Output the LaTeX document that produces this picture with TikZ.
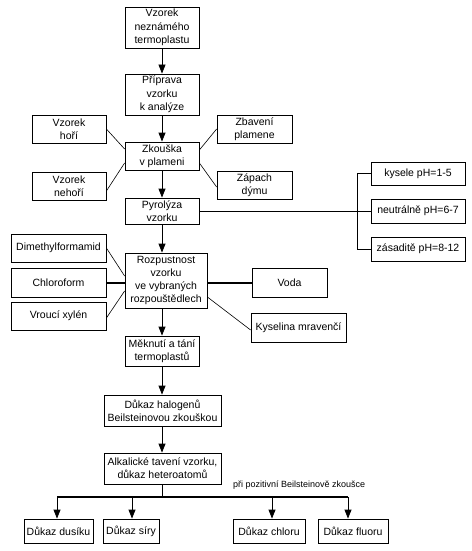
\documentclass[tikz,border=0pt]{standalone}
\usepackage{fontspec}
\setmainfont{Liberation Sans}
\usetikzlibrary{arrows.meta,calc}
\begin{document}
\begin{tikzpicture}[x=1pt,y=-1pt,
  box/.style={draw=black,line width=0.8pt,inner sep=0pt,align=center,
    font=\fontsize{10.5}{13.3}\selectfont},
  arr/.style={line width=0.8pt,-{Triangle[width=7pt,length=9pt]}},
  ln/.style={line width=0.6pt},
  thick line/.style={line width=2pt},
  lbl/.style={font=\fontsize{9}{10}\selectfont,inner sep=0pt,anchor=west}]
\useasboundingbox[fill=white] (0,0) rectangle (471,551);
% main column
\node[box,minimum width=74pt,minimum height=41pt] (b1) at (162,27.5) {Vzorek\\neznámého\\termoplastu};
\node[box,minimum width=74pt,minimum height=41pt] (b2) at (162,94.5) {Příprava\\vzorku\\k analýze};
\node[box,minimum width=74pt,minimum height=28pt] (zk) at (162,156) {Zkouška\\v plameni};
\node[box,minimum width=74pt,minimum height=28pt] (hori) at (69,129) {Vzorek\\hoří};
\node[box,minimum width=74pt,minimum height=28pt] (nehori) at (69,186) {Vzorek\\nehoří};
\node[box,minimum width=75pt,minimum height=28pt] (zbav) at (254.5,129) {Zbavení\\plamene};
\node[box,minimum width=75pt,minimum height=28pt] (zapach) at (254.5,185) {Zápach\\dýmu};
\node[box,minimum width=74pt,minimum height=26pt] (pyr) at (162,211) {Pyrolýza\\vzorku};
\node[box,minimum width=94pt,minimum height=23pt] (kysele) at (418,173.5) {kysele pH=1-5};
\node[box,minimum width=94pt,minimum height=24pt] (neutral) at (418,211) {neutrálně pH=6-7};
\node[box,minimum width=94pt,minimum height=24pt] (zasad) at (418,249) {zásaditě pH=8-12};
\node[box,minimum width=95pt,minimum height=28pt] (dmf) at (58.5,248) {Dimethylformamid};
\node[box,minimum width=95pt,minimum height=29pt] (chlor) at (58.5,282.5) {Chloroform};
\node[box,minimum width=95pt,minimum height=28pt] (xylen) at (58.5,316) {Vroucí xylén};
\node[box,minimum width=82pt,minimum height=55pt] (rozp) at (166,280.5) {Rozpustnost\\vzorku\\ve vybraných\\rozpouštědlech};
\node[box,minimum width=75pt,minimum height=29pt] (voda) at (289.5,282.5) {Voda};
\node[box,minimum width=95pt,minimum height=29pt] (mrav) at (298.5,327.5) {Kyselina mravenčí};
\node[box,minimum width=74pt,minimum height=30pt] (mekn) at (162,351) {Měknutí a tání\\termoplastů};
\node[box,minimum width=117pt,minimum height=31pt] (halog) at (162.5,410.5) {Důkaz halogenů\\Beilsteinovou zkouškou};
\node[box,minimum width=117pt,minimum height=31pt] (alk) at (162.5,468.5) {Alkalické tavení vzorku,\\důkaz heteroatomů};
\node[box,minimum width=69pt,minimum height=24pt] (dusik) at (58.5,531) {Důkaz dusíku};
\node[box,minimum width=56pt,minimum height=24pt] (siry) at (131,531) {Důkaz síry};
\node[box,minimum width=72pt,minimum height=24pt] (chloru) at (269,531) {Důkaz chloru};
\node[box,minimum width=70pt,minimum height=24pt] (fluoru) at (353,531) {Důkaz fluoru};
\node[lbl] (poz) at (233,485) {při pozitivní Beilsteinově zkoušce};
% arrows on main column
\draw[arr] (b1.south) -- (b2.north);
\draw[arr] (b2.south) -- (zk.north);
\draw[arr] (zk.south) -- (pyr.north);
\draw[arr] (pyr.south) -- (pyr.south |- rozp.north);
\draw[arr] (mekn.north |- rozp.south) -- (mekn.north);
\draw[arr] (mekn.south) -- (mekn.south |- halog.north);
\draw[arr] (mekn.south |- halog.south) -- (mekn.south |- alk.north);
% flame test lines
\draw[ln] (hori.east) -- ([yshift=7pt]zk.west);
\draw[ln] ([yshift=-7pt]zk.west) -- ([yshift=-5pt]nehori.east);
\draw[ln] ([yshift=6pt]zk.east) -- (zbav.west);
\draw[ln] ([yshift=-7pt]zk.east) -- ([yshift=-2pt]zapach.west);
% pyrolysis bracket
\coordinate (br) at ($(neutral.west)+(-13,0)$);
\draw[line width=1pt] (pyr.east) -- (neutral.west);
\draw[line width=1pt] (kysele.west) -| (br) |- (zasad.west);
% solvents
\draw[ln] (dmf.east) -- ([yshift=4.5pt]rozp.west);
\draw[ln] ([yshift=-2pt]xylen.east) -- ([yshift=-10.5pt]rozp.west);
\draw[thick line] (chlor.east) -- (chlor.east -| rozp.west);
\draw[thick line] (rozp.east |- voda.west) -- (voda.west);
\draw[ln] ([yshift=-16.5pt]rozp.east) -- ([yshift=-2.5pt]mrav.west);
% bus
\coordinate (bm) at (162,497);
\coordinate (d1) at (57,497);
\coordinate (d2) at (132,497);
\coordinate (d3) at (272,497);
\coordinate (d4) at (348,497);
\draw[line width=1pt] (alk.south -| bm) -- (bm);
\draw[thick line] (d1) -- (d4);
\draw[arr] (d1) -- (d1 |- dusik.north);
\draw[arr] (d2) -- (d2 |- siry.north);
\draw[arr] (d3) -- (d3 |- chloru.north);
\draw[arr] (d4) -- (d4 |- fluoru.north);
\end{tikzpicture}
\end{document}
